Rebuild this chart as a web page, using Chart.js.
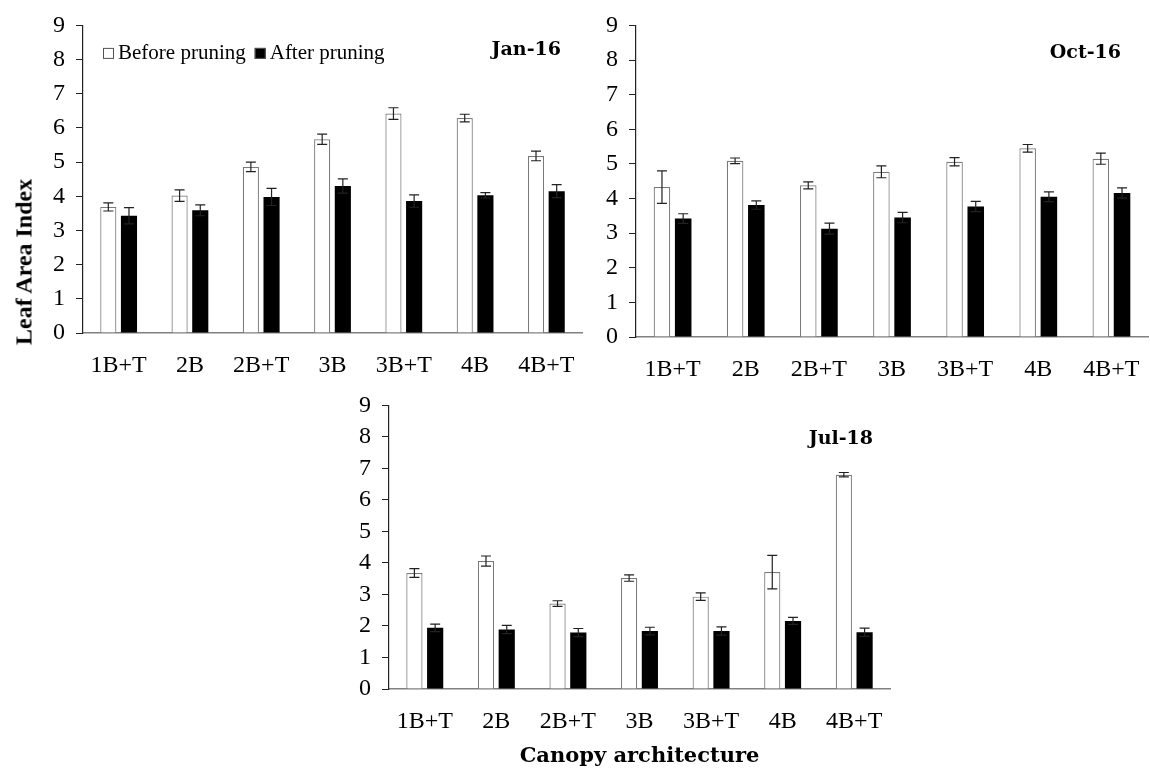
<!DOCTYPE html>
<html>
<head>
<meta charset="utf-8">
<title>Leaf Area Index</title>
<script src="https://cdn.jsdelivr.net/npm/chart.js@4.4.1/dist/chart.umd.min.js"></script>
<style>
  body { margin: 0; background: #fff; }
  #wrap { position: relative; width: 1150px; height: 778px; overflow: hidden; }
  canvas { position: absolute; }
  #lai {
    position: absolute; left: 24px; top: 262px;
    transform: translate(-50%, -50%) rotate(-90deg);
    font: bold 24px "Liberation Serif"; white-space: nowrap; color: #000;
  }
</style>
</head>
<body>
<div id="wrap">
  <canvas id="g1" width="600" height="390" style="left:0;top:0"></canvas>
  <canvas id="g2" width="600" height="390" style="left:560px;top:0"></canvas>
  <canvas id="g3" width="602" height="398" style="left:300px;top:380px"></canvas>
  <div id="lai">Leaf Area Index</div>
</div>
<script>
// Data
const categorias = ["1B+T", "2B", "2B+T", "3B", "3B+T", "4B", "4B+T"];
const ticksY = [0, 1, 2, 3, 4, 5, 6, 7, 8, 9];

// Jan-16
const jan16Antes = [3.69, 4.02, 4.86, 5.67, 6.42, 6.29, 5.18];
const jan16AntesErr = [0.12, 0.17, 0.14, 0.15, 0.17, 0.11, 0.14];
const jan16Despues = [3.43, 3.59, 3.98, 4.30, 3.86, 4.03, 4.15];
const jan16DespuesErr = [0.24, 0.16, 0.25, 0.21, 0.18, 0.08, 0.19];

// Oct-16
const oct16Antes = [4.33, 5.09, 4.38, 4.77, 5.06, 5.45, 5.15];
const oct16AntesErr = [0.47, 0.08, 0.10, 0.17, 0.12, 0.11, 0.16];
const oct16Despues = [3.42, 3.81, 3.13, 3.45, 3.77, 4.05, 4.16];
const oct16DespuesErr = [0.14, 0.12, 0.16, 0.15, 0.15, 0.14, 0.15];

// Jul-18
const jul18Antes = [3.68, 4.06, 2.71, 3.52, 2.93, 3.71, 6.80];
const jul18AntesErr = [0.14, 0.16, 0.09, 0.10, 0.12, 0.53, 0.07];
const jul18Despues = [1.94, 1.89, 1.79, 1.84, 1.84, 2.16, 1.80];
const jul18DespuesErr = [0.12, 0.13, 0.13, 0.12, 0.13, 0.11, 0.13];

const serie1 = "Before pruning";
const serie2 = "After pruning";

// Error bars drawn through the y scale
const errorBars = {
  id: "errorBars",
  afterDatasetsDraw(chart) {
    const ctx = chart.ctx;
    const y = chart.scales.y;
    ctx.save();
    ctx.strokeStyle = "#222";
    ctx.lineWidth = 1.2;
    chart.data.datasets.forEach((ds, i) => {
      const meta = chart.getDatasetMeta(i);
      meta.data.forEach((bar, j) => {
        const v = ds.data[j];
        const e = ds.errores[j];
        const arriba = y.getPixelForValue(v + e);
        const abajo = y.getPixelForValue(v - e);
        ctx.beginPath();
        ctx.moveTo(bar.x, arriba); ctx.lineTo(bar.x, abajo);
        ctx.moveTo(bar.x - 5, arriba); ctx.lineTo(bar.x + 5, arriba);
        ctx.moveTo(bar.x - 5, abajo); ctx.lineTo(bar.x + 5, abajo);
        ctx.stroke();
      });
    });
    ctx.restore();
  }
};

// Panel title + optional legend inside the plot
const rotulos = {
  id: "rotulos",
  afterDraw(chart, args, opts) {
    const ctx = chart.ctx;
    const a = chart.chartArea;
    ctx.save();
    ctx.fillStyle = "#000";
    ctx.font = 'bold 19px "DejaVu Serif"';
    ctx.textAlign = "right";
    ctx.textBaseline = "middle";
    ctx.fillText(opts.titulo, a.right - opts.dx, a.top + opts.dy);

    if (opts.leyenda) {
      ctx.font = '21px "Liberation Serif"';
      ctx.textAlign = "left";
      let x = a.left + 20;
      let y = a.top + 28;
      chart.data.datasets.forEach((ds) => {
        ctx.fillStyle = ds.backgroundColor;
        ctx.fillRect(x, y - 5.5, 11, 11);
        ctx.strokeStyle = "#555";
        ctx.lineWidth = 1;
        ctx.strokeRect(x + 0.5, y - 5, 10, 10);
        ctx.fillStyle = "#000";
        ctx.fillText(ds.label, x + 15, y);
        x += 15 + ctx.measureText(ds.label).width + 9;
      });
    }
    ctx.restore();
  }
};

function crearGrafico(id, antes, antesErr, despues, despuesErr, cfg) {
  const ctx = document.getElementById(id).getContext("2d");
  new Chart(ctx, {
    type: "bar",
    data: {
      labels: categorias,
      datasets: [
        {
          label: serie1,
          data: antes,
          errores: antesErr,
          backgroundColor: "#ffffff",
          borderColor: "#7a7a7a",
          borderWidth: 1.2,
        },
        {
          label: serie2,
          data: despues,
          errores: despuesErr,
          backgroundColor: "#000000",
          borderWidth: 0,
        },
      ],
    },
    options: {
      responsive: false,
      animation: false,
      events: [],
      datasets: { bar: { categoryPercentage: 0.58, barPercentage: 0.78 } },
      layout: { padding: { top: cfg.top, right: cfg.right, left: 0, bottom: 0 } },
      plugins: {
        legend: { display: false },
        tooltip: { enabled: false },
        rotulos: { titulo: cfg.titulo, dx: cfg.dx, dy: cfg.dy, leyenda: cfg.leyenda },
      },
      scales: {
        x: {
          grid: { display: false, drawTicks: false },
          border: { display: true, color: "#808080", width: 1.5 },
          ticks: { color: "#000", padding: 18, autoSkip: false, maxRotation: 0,
                   font: { family: "Liberation Serif", size: 24 } },
          title: {
            display: !!cfg.tituloX,
            text: cfg.tituloX || "",
            color: "#000",
            font: { family: "DejaVu Serif", size: 21, weight: "bold" },
            padding: { top: 0, bottom: 9 },
          },
          afterFit: (s) => { s.height = cfg.altoX; },
        },
        y: {
          min: ticksY[0],
          max: ticksY[ticksY.length - 1],
          grid: { drawOnChartArea: false, drawTicks: true, tickLength: 7, color: "#222" },
          border: { display: true, color: "#222", width: 1.2 },
          ticks: {
            stepSize: 1,
            autoSkip: false,
            color: "#000",
            padding: 11,
            font: { family: "Liberation Serif", size: 24 },
          },
          afterFit: (s) => { s.width = cfg.anchoY; },
        },
      },
    },
    plugins: [errorBars, rotulos],
  });
}

crearGrafico("g1", jan16Antes, jan16AntesErr, jan16Despues, jan16DespuesErr,
  { titulo: "Jan-16", dx: 21, dy: 25, leyenda: true, top: 24, right: 18, anchoY: 83, altoX: 57 });
crearGrafico("g2", oct16Antes, oct16AntesErr, oct16Despues, oct16DespuesErr,
  { titulo: "Oct-16", dx: 27, dy: 28, leyenda: false, top: 19, right: 12, anchoY: 76, altoX: 53 });
crearGrafico("g3", jul18Antes, jul18AntesErr, jul18Despues, jul18DespuesErr,
  { titulo: "Jul-18", dx: 17, dy: 34, leyenda: false, top: 25, right: 12, anchoY: 89, altoX: 89,
    tituloX: "Canopy architecture" });
</script>
</body>
</html>
